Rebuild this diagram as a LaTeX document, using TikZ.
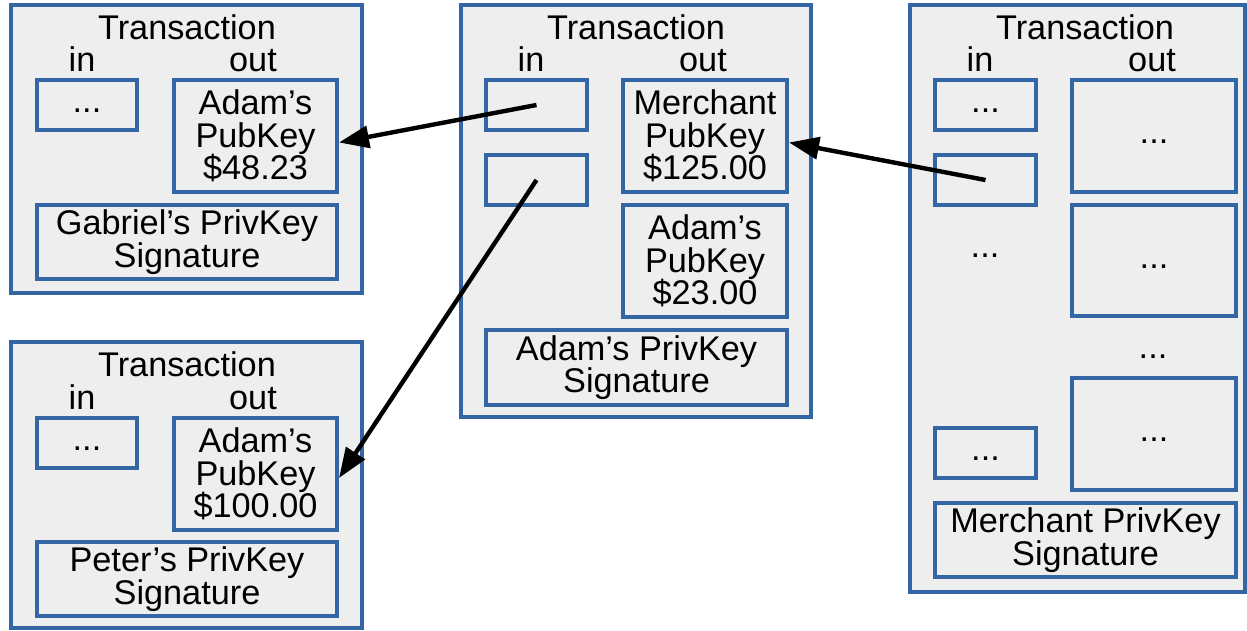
\documentclass[tikz,border=0pt]{standalone}
\usepackage{fontspec}
\setmainfont{Liberation Sans}
\usetikzlibrary{fit,arrows.meta}
\definecolor{txblue}{RGB}{52,101,164}
\definecolor{txgray}{RGB}{238,238,238}

\begin{document}
\begin{tikzpicture}[x=0.02cm, y=-0.02cm]
		\tikzstyle{every node}=[font=\fontsize{19.5}{18.5}\selectfont]
		\tikzstyle{tx}=[rectangle, draw=txblue, fill=txgray, line width=2.3pt, inner sep=0pt]
		\tikzstyle{txt}=[align=center, inner sep=0pt]
		\tikzstyle{dotstxt}=[txt, yshift=-0.12cm]
		\tikzstyle{head}=[anchor=base, inner sep=0pt]
		\tikzstyle{connect}=[-{Triangle[length=6mm,width=4.4mm]}, line width=2.5pt]
		\useasboundingbox (0,0) rectangle (1247,631);
		\node[tx, fit={(11,5) (362,293)}] (txA) {};
		\node[head] (txA_title) at (187,40) {Transaction};
		\node[head] (txA_inlbl) at (82,72) {in};
		\node[head] (txA_outlbl) at (253,72) {out};
		\node[tx, fit={(37,80) (137,130)}, label={[dotstxt]center:...}] (txA_in) {};
		\node[tx, fit={(174,80) (337,192)}, label={[txt]center:Adam’s\\PubKey\\\$48.23}] (txA_out) {};
		\node[tx, fit={(37,205) (337,279)}, label={[txt]center:Gabriel’s PrivKey\\Signature}] (txA_sig) {};
		\node[tx, fit={(11,342) (362,628)}] (txB) {};
		\node[head] (txB_title) at (187,377) {Transaction};
		\node[head] (txB_inlbl) at (82,409) {in};
		\node[head] (txB_outlbl) at (253,409) {out};
		\node[tx, fit={(37,418) (137,468)}, label={[dotstxt]center:...}] (txB_in) {};
		\node[tx, fit={(174,418) (337,530)}, label={[txt]center:Adam’s\\PubKey\\\$100.00}] (txB_out) {};
		\node[tx, fit={(37,542) (337,616)}, label={[txt]center:Peter’s PrivKey\\Signature}] (txB_sig) {};
		\node[tx, fit={(461,5) (811,417)}] (txC) {};
		\node[head] (txC_title) at (636,40) {Transaction};
		\node[head] (txC_inlbl) at (531,72) {in};
		\node[head] (txC_outlbl) at (703,72) {out};
		\node[tx, fit={(486,80) (587,130)}] (txC_in1) {};
		\node[tx, fit={(486,155) (587,205)}] (txC_in2) {};
		\node[tx, fit={(623,80) (787,192)}, label={[txt]center:Merchant\\PubKey\\\$125.00}] (txC_out1) {};
		\node[tx, fit={(623,205) (787,317)}, label={[txt]center:Adam’s\\PubKey\\\$23.00}] (txC_out2) {};
		\node[tx, fit={(486,330) (787,405)}, label={[txt]center:Adam’s PrivKey\\Signature}] (txC_sig) {};
		\node[tx, fit={(910,5) (1245,592)}] (txD) {};
		\node[head] (txD_title) at (1085,40) {Transaction};
		\node[head] (txD_inlbl) at (980,72) {in};
		\node[head] (txD_outlbl) at (1152,72) {out};
		\node[tx, fit={(935,80) (1036,130)}, label={[dotstxt]center:...}] (txD_in1) {};
		\node[tx, fit={(935,155) (1036,205)}] (txD_in2) {};
		\node[head] (txD_indots) at (985,258) {...};
		\node[tx, fit={(935,428) (1036,478)}, label={[dotstxt]center:...}] (txD_in3) {};
		\node[tx, fit={(1072,80) (1236,192)}, label={[dotstxt]center:...}] (txD_out1) {};
		\node[tx, fit={(1072,205) (1236,316)}, label={[dotstxt]center:...}] (txD_out2) {};
		\node[head] (txD_outdots) at (1153,358) {...};
		\node[tx, fit={(1072,378) (1236,490)}, label={[dotstxt]center:...}] (txD_out3) {};
		\node[tx, fit={(935,503) (1236,577)}, label={[txt]center:Merchant PrivKey\\Signature}] (txD_sig) {};
		\path (txC_in1.center) edge [connect] ([yshift=-0.13cm]txA_out.east)
		(txC_in2.center) edge [connect] ([yshift=-0.08cm]txB_out.east)
		(txD_in2.center) edge [connect] ([yshift=-0.13cm]txC_out1.east);
\end{tikzpicture}
\end{document}
